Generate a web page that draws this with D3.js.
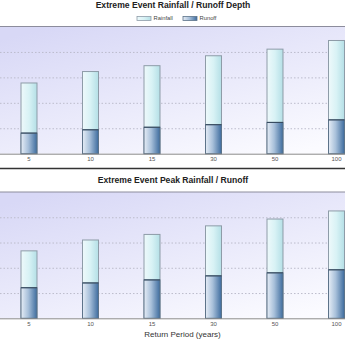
<!DOCTYPE html>
<html>
<head>
<meta charset="utf-8">
<script src="https://cdn.jsdelivr.net/npm/d3@7/dist/d3.min.js"></script>
<style>
  html, body { margin: 0; padding: 0; background: #fff; }
  svg { display: block; font-family: "Liberation Sans", Arial, sans-serif; }
</style>
</head>
<body>
<svg id="chart" width="345" height="345"></svg>
<script>
// Return periods (years) shown on the category axis
const periods = ["5", "10", "15", "30", "50", "100"];

// Event depth (top panel)
const depthRainfall = [2.78, 3.23, 3.46, 3.85, 4.11, 4.45];
const depthRunoff   = [0.81, 0.94, 1.04, 1.14, 1.23, 1.33];

// Peak rainfall / runoff (bottom panel)
const peakRainfall = [2.67, 3.10, 3.32, 3.66, 3.93, 4.25];
const peakRunoff   = [1.21, 1.40, 1.52, 1.68, 1.80, 1.92];

// Value axis
const valueDomain = [0, 5];
const gridTicks = [1, 2, 3, 4];

const seriesNames = ["Rainfall", "Runoff"];

const svg = d3.select("#chart");
const W = 345;

// ---- shared gradients ----
const defs = svg.append("defs");

const bg = defs.append("linearGradient").attr("id", "plotBg")
  .attr("x1", 0.15).attr("y1", 0).attr("x2", 0.85).attr("y2", 1);
bg.append("stop").attr("offset", "0%").attr("stop-color", "#d8d8f6");
bg.append("stop").attr("offset", "55%").attr("stop-color", "#ebebfb");
bg.append("stop").attr("offset", "100%").attr("stop-color", "#fbfbff");

const gRain = defs.append("linearGradient").attr("id", "rainFill")
  .attr("x1", 0).attr("y1", 0).attr("x2", 1).attr("y2", 0);
gRain.append("stop").attr("offset", "0%").attr("stop-color", "#eef9fb");
gRain.append("stop").attr("offset", "50%").attr("stop-color", "#d8f2f5");
gRain.append("stop").attr("offset", "100%").attr("stop-color", "#b4dfe6");

const gRun = defs.append("linearGradient").attr("id", "runFill")
  .attr("x1", 0).attr("y1", 0).attr("x2", 1).attr("y2", 0);
gRun.append("stop").attr("offset", "0%").attr("stop-color", "#e6edf6");
gRun.append("stop").attr("offset", "45%").attr("stop-color", "#a8c0da");
gRun.append("stop").attr("offset", "100%").attr("stop-color", "#3e6c9e");

// category scale (plot extends past the visible frame on both sides)
const x = d3.scaleBand()
  .domain(periods)
  .range([-1.75, 367.25])
  .paddingInner(0.74)
  .paddingOuter(0.37);

function panel(opts) {
  const { top, bottom, title, titleY, rain, runoff } = opts;
  const g = svg.append("g");

  const y = d3.scaleLinear().domain(valueDomain).range([bottom, top]);

  // plot background
  g.append("rect")
    .attr("x", 0).attr("y", top)
    .attr("width", W).attr("height", bottom - top)
    .attr("fill", "url(#plotBg)");

  // dotted gridlines
  const grid = g.append("g")
    .call(d3.axisLeft(y).tickValues(gridTicks).tickSize(-W * 2).tickFormat(""));
  grid.select(".domain").remove();
  grid.selectAll(".tick line")
    .attr("stroke", "#bcbccc")
    .attr("stroke-width", 1)
    .attr("stroke-dasharray", "1.5,2");

  // top frame line
  g.append("line")
    .attr("x1", 0).attr("x2", W)
    .attr("y1", y(valueDomain[1])).attr("y2", y(valueDomain[1]))
    .attr("stroke", "#8c8c9c").attr("stroke-width", 1);

  // rainfall bars (full height)
  g.append("g").selectAll("rect")
    .data(periods)
    .join("rect")
    .attr("x", d => x(d))
    .attr("width", x.bandwidth())
    .attr("y", (d, i) => y(rain[i]))
    .attr("height", (d, i) => y(0) - y(rain[i]))
    .attr("fill", "url(#rainFill)")
    .attr("stroke", "#8e9ca8")
    .attr("stroke-width", 1);

  // runoff bars overlaid at the base
  g.append("g").selectAll("rect")
    .data(periods)
    .join("rect")
    .attr("x", d => x(d))
    .attr("width", x.bandwidth())
    .attr("y", (d, i) => y(runoff[i]))
    .attr("height", (d, i) => y(0) - y(runoff[i]))
    .attr("fill", "url(#runFill)")
    .attr("stroke", "#5d7389")
    .attr("stroke-width", 1);

  g.append("g").selectAll("line")
    .data(periods)
    .join("line")
    .attr("x1", d => x(d)).attr("x2", d => x(d) + x.bandwidth())
    .attr("y1", (d, i) => y(runoff[i])).attr("y2", (d, i) => y(runoff[i]))
    .attr("stroke", "#33475c").attr("stroke-width", 1);

  // category axis
  const ax = g.append("g")
    .attr("transform", `translate(0,${bottom})`)
    .call(d3.axisBottom(x).tickSize(0).tickSizeOuter(0).tickPadding(3));
  ax.select(".domain").attr("stroke", "#8a8a8a").attr("stroke-width", 1);
  ax.selectAll(".tick text")
    .attr("font-size", 6)
    .attr("fill", "#555")
    .attr("font-family", "Liberation Sans, Arial, sans-serif");

  // title
  g.append("text")
    .attr("x", 173).attr("y", titleY)
    .attr("text-anchor", "middle")
    .attr("dominant-baseline", "middle")
    .attr("font-size", 8.6)
    .attr("font-weight", "bold")
    .attr("fill", "#222")
    .text(title);

  return g;
}

panel({
  top: 26.5, bottom: 153.7,
  title: "Extreme Event Rainfall / Runoff Depth", titleY: 5.5,
  rain: depthRainfall, runoff: depthRunoff
});

// legend for the top panel
const legend = svg.append("g");
const legendItems = [
  { name: seriesNames[0], fill: "url(#rainFill)", stroke: "#8e9ca8", x: 137 },
  { name: seriesNames[1], fill: "url(#runFill)", stroke: "#5d7389", x: 183 }
];
legendItems.forEach(it => {
  legend.append("rect")
    .attr("x", it.x).attr("y", 16.5)
    .attr("width", 14).attr("height", 4)
    .attr("fill", it.fill).attr("stroke", it.stroke).attr("stroke-width", 0.8);
  legend.append("text")
    .attr("x", it.x + 16.5).attr("y", 18.6)
    .attr("dominant-baseline", "middle")
    .attr("font-size", 5.8)
    .attr("fill", "#444")
    .text(it.name);
});

// separator between the two panels
svg.append("line")
  .attr("x1", 0).attr("x2", W)
  .attr("y1", 168.6).attr("y2", 168.6)
  .attr("stroke", "#333").attr("stroke-width", 1.5);

panel({
  top: 192, bottom: 318.3,
  title: "Extreme Event Peak Rainfall / Runoff", titleY: 181,
  rain: peakRainfall, runoff: peakRunoff
});

// category axis title
svg.append("text")
  .attr("x", 182.5).attr("y", 335)
  .attr("text-anchor", "middle")
  .attr("dominant-baseline", "middle")
  .attr("font-size", 8)
  .attr("fill", "#333")
  .text("Return Period (years)");
</script>
</body>
</html>
